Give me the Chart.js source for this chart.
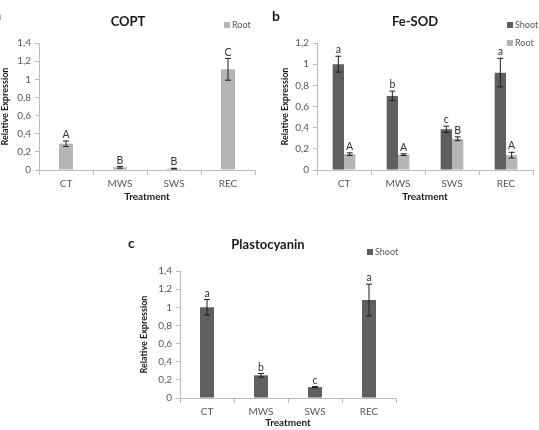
<!DOCTYPE html>
<html>
<head>
<meta charset="utf-8">
<script src="https://cdn.jsdelivr.net/npm/chart.js@4"></script>
<style>
  html, body { margin: 0; padding: 0; background: #fff; }
  body { width: 539px; height: 430px; position: relative; overflow: hidden; }
  .panel { position: absolute; }
</style>
</head>
<body>
<div class="panel" style="left:0;top:0"><canvas id="coptChart" width="265" height="210"></canvas></div>
<div class="panel" style="left:265px;top:0"><canvas id="sodChart" width="274" height="210"></canvas></div>
<div class="panel" style="left:120px;top:215px"><canvas id="pcChart" width="290" height="215"></canvas></div>
<script>
const categories = ['CT', 'MWS', 'SWS', 'REC'];

// COPT (root only)
const coptRoot = [0.29, 0.03, 0.015, 1.11];
const coptRootErr = [0.03, 0.01, 0.004, 0.12];
const coptRootLetters = ['A', 'B', 'B', 'C'];

// Fe-SOD
const sodShoot = [1.0, 0.70, 0.385, 0.92];
const sodShootErr = [0.075, 0.045, 0.03, 0.135];
const sodShootLetters = ['a', 'b', 'c', 'a'];
const sodRoot = [0.15, 0.145, 0.295, 0.14];
const sodRootErr = [0.012, 0.008, 0.018, 0.027];
const sodRootLetters = ['A', 'A', 'B', 'A'];

// Plastocyanin (shoot only)
const pcShoot = [1.0, 0.25, 0.12, 1.08];
const pcShootErr = [0.085, 0.02, 0.006, 0.175];
const pcShootLetters = ['a', 'b', 'c', 'a'];

const ticks14 = ['0', '0,2', '0,4', '0,6', '0,8', '1', '1,2', '1,4'];
const ticks12 = ['0', '0,2', '0,4', '0,6', '0,8', '1', '1,2'];

const shootColor = '#5f5f5f';
const rootColor = '#b5b5b5';
const axisColor = '#bcbcbc';
const tickColor = '#595959';
const FONT = 'Lato, "Open Sans", sans-serif';

// error bars, letters, title, legend, panel letter
const annotPlugin = {
  id: 'annot',
  afterDatasetsDraw(chart, args, opts) {
    const ctx = chart.ctx;
    const y = chart.scales.y;
    ctx.save();
    chart.data.datasets.forEach((ds, di) => {
      const meta = chart.getDatasetMeta(di);
      meta.data.forEach((bar, i) => {
        const v = ds.data[i], e = ds.errors[i];
        const top = y.getPixelForValue(v + e);
        const bot = y.getPixelForValue(v - e);
        ctx.strokeStyle = '#1e1e1e';
        ctx.lineWidth = 1;
        ctx.beginPath();
        ctx.moveTo(bar.x, top); ctx.lineTo(bar.x, bot);
        ctx.moveTo(bar.x - 3, top); ctx.lineTo(bar.x + 3, top);
        ctx.moveTo(bar.x - 3, bot); ctx.lineTo(bar.x + 3, bot);
        ctx.stroke();
        ctx.fillStyle = '#333';
        ctx.font = '10.5px ' + FONT;
        ctx.textAlign = 'center';
        ctx.textBaseline = 'bottom';
        ctx.fillText(ds.letters[i], bar.x, top - 1);
      });
    });

    // title
    ctx.fillStyle = '#1a1a1a';
    ctx.font = 'bold 13px ' + FONT;
    ctx.textAlign = 'center';
    ctx.textBaseline = 'middle';
    ctx.fillText(opts.title, opts.titleX, opts.titleY);

    // panel letter
    ctx.font = 'bold 14px ' + FONT;
    ctx.textAlign = 'left';
    ctx.fillText(opts.panel, opts.panelX, opts.panelY);

    // legend
    ctx.font = '9px ' + FONT;
    chart.data.datasets.forEach((ds, di) => {
      const ly = opts.legendY + di * opts.legendGap;
      ctx.fillStyle = ds.backgroundColor;
      ctx.fillRect(opts.legendX, ly - 3, 6, 6);
      ctx.fillStyle = tickColor;
      ctx.textAlign = 'left';
      ctx.fillText(ds.label, opts.legendX + 8, ly);
    });
    ctx.restore();
  }
};

function makeChart(id, datasets, cfg) {
  return new Chart(document.getElementById(id), {
    type: 'bar',
    data: { labels: categories, datasets: datasets },
    plugins: [annotPlugin],
    options: {
      responsive: false,
      animation: false,
      layout: { padding: { top: cfg.top, left: 0, right: cfg.right, bottom: 0 } },
      datasets: { bar: { categoryPercentage: cfg.catPct, barPercentage: 1 } },
      plugins: {
        legend: { display: false },
        tooltip: { enabled: false },
        annot: cfg.annot
      },
      scales: {
        x: {
          afterFit: s => { s.height = cfg.xHeight; },
          grid: { offset: true, drawOnChartArea: false, color: axisColor, tickLength: 5 },
          border: { color: axisColor },
          ticks: { color: tickColor, font: { family: FONT, size: 10 }, padding: 3 },
          title: { display: true, text: 'Treatment', color: '#1a1a1a',
                   font: { family: FONT, size: 10, weight: 'bold' }, padding: { bottom: cfg.xTitlePad } }
        },
        y: {
          min: 0, max: cfg.max,
          afterFit: s => { s.width = cfg.yWidth; },
          afterBuildTicks: s => { s.ticks = cfg.tickLabels.map((t, i) => ({ value: +(i * 0.2).toFixed(1) })); },
          grid: { drawOnChartArea: false, color: axisColor, tickLength: 4 },
          border: { color: axisColor },
          ticks: { color: tickColor, font: { family: FONT, size: 10 }, padding: 4,
                   callback: (v, i) => cfg.tickLabels[i] },
          title: { display: true, text: 'Relative Expression', color: '#1a1a1a',
                   font: { family: FONT, size: 9, weight: 'bold' }, padding: { top: cfg.yTitlePad } }
        }
      }
    }
  });
}

makeChart('coptChart', [
  { label: 'Root', data: coptRoot, errors: coptRootErr, letters: coptRootLetters, backgroundColor: rootColor }
], {
  top: 43, right: 10, yWidth: 39, xHeight: 40, catPct: 0.26, max: 1.4, tickLabels: ticks14,
  xTitlePad: 7, yTitlePad: 0,
  annot: { title: 'COPT', titleX: 128, titleY: 22, panel: 'a', panelX: -6, panelY: 15,
           legendX: 224, legendY: 25, legendGap: 18 }
});

makeChart('sodChart', [
  { label: 'Shoot', data: sodShoot, errors: sodShootErr, letters: sodShootLetters, backgroundColor: shootColor },
  { label: 'Root', data: sodRoot, errors: sodRootErr, letters: sodRootLetters, backgroundColor: rootColor }
], {
  top: 43, right: 6, yWidth: 52, xHeight: 40, catPct: 0.42, max: 1.2, tickLabels: ticks12,
  xTitlePad: 7, yTitlePad: 15,
  annot: { title: 'Fe-SOD', titleX: 150, titleY: 22, panel: 'b', panelX: 7, panelY: 16,
           legendX: 242, legendY: 25, legendGap: 18 }
});

makeChart('pcChart', [
  { label: 'Shoot', data: pcShoot, errors: pcShootErr, letters: pcShootLetters, backgroundColor: shootColor }
], {
  top: 56, right: 14, yWidth: 60, xHeight: 32, catPct: 0.26, max: 1.4, tickLabels: ticks14,
  xTitlePad: 1, yTitlePad: 19,
  annot: { title: 'Plastocyanin', titleX: 148, titleY: 30, panel: 'c', panelX: 8, panelY: 28,
           legendX: 247, legendY: 37, legendGap: 18 }
});
</script>
</body>
</html>
